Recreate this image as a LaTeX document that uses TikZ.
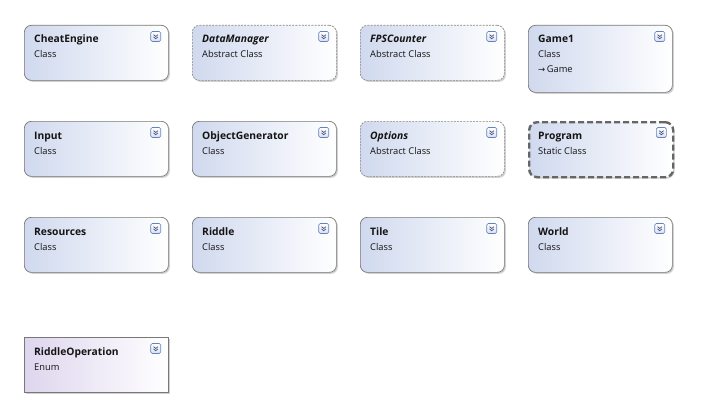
\documentclass[tikz,border=0pt]{standalone}
\usepackage{fontspec}
\setmainfont{Open Sans}
\newfontfamily\symfont{DejaVu Sans}
\usetikzlibrary{shadows}
\definecolor{boxleft}{RGB}{208,217,238}
\definecolor{enumleft}{RGB}{222,214,238}
\definecolor{boxline}{RGB}{120,120,120}
\definecolor{iconline}{RGB}{100,130,190}
\definecolor{icondark}{RGB}{40,60,120}
\definecolor{txt}{RGB}{20,20,20}
\tikzset{
  base/.style={anchor=north west, minimum width=144pt, inner sep=0pt,
    drop shadow={shadow xshift=1.5pt, shadow yshift=-1.5pt, fill=black!30, opacity=0.6}},
  clsbox/.style={base, rounded corners=7pt, draw=boxline, line width=0.7pt,
    left color=boxleft, right color=white},
  absbox/.style={clsbox, dashed, dash pattern=on 2pt off 1.2pt, draw=boxline!90},
  staticbox/.style={base, rounded corners=8pt, draw=black!60, line width=2.4pt,
    dash pattern=on 6pt off 3pt, left color=boxleft, right color=white},
  enumbox/.style={base, draw=boxline, line width=0.7pt, left color=enumleft, right color=white},
  title/.style={anchor=base west, font=\fontsize{10.3pt}{11pt}\selectfont\bfseries, text=txt, inner sep=0pt},
  ititle/.style={title, font=\fontsize{10.3pt}{11pt}\selectfont\bfseries\itshape},
  sub/.style={anchor=base west, font=\fontsize{9.3pt}{10pt}\selectfont, text=txt, inner sep=0pt},
  icon/.style={draw=iconline, line width=0.6pt, rounded corners=1.5pt, minimum size=10pt, inner sep=0pt,
    top color=white, bottom color=iconline!25}
}
\newcommand\chev[1]{%
  \node[icon] (#1i) at ([xshift=-13pt,yshift=-11.5pt]#1.north east) {};
  \draw[icondark, line width=0.6pt] ([xshift=-2.2pt,yshift=1.8pt]#1i.center) -- ([yshift=0pt]#1i.center) -- ([xshift=2.2pt,yshift=1.8pt]#1i.center);
  \draw[icondark, line width=0.6pt] ([xshift=-2.2pt,yshift=-0.4pt]#1i.center) -- ([yshift=-2.2pt]#1i.center) -- ([xshift=2.2pt,yshift=-0.4pt]#1i.center);
}
\newcommand\umlbox[8]{% name, style, x, y, height, titlestyle, title, subtitle
  \node[#2, minimum height=#5pt] (#1) at (#3pt,-#4pt) {};
  \node[#6] (#1t) at ([xshift=10pt,yshift=-18pt]#1.north west) {#7};
  \node[sub] (#1s) at ([xshift=10pt,yshift=-33pt]#1.north west) {#8};
  \chev{#1}
}
\begin{document}
\begin{tikzpicture}
\useasboundingbox[fill=white] (0,0) rectangle (709pt,-420pt);
\umlbox{ce}{clsbox}{24}{25}{55}{title}{CheatEngine}{Class}
\umlbox{dm}{absbox}{192}{25}{55}{ititle}{DataManager}{Abstract Class}
\umlbox{fps}{absbox}{360}{25}{55}{ititle}{FPSCounter}{Abstract Class}
\umlbox{g1}{clsbox}{528}{25}{67}{title}{Game1}{Class}
\node[sub] (g1b) at ([xshift=10pt,yshift=-48pt]g1.north west) {{\symfont\fontsize{8.5pt}{9pt}\selectfont →}\,Game};
\umlbox{inp}{clsbox}{24}{121}{55}{title}{Input}{Class}
\umlbox{og}{clsbox}{192}{121}{55}{title}{ObjectGenerator}{Class}
\umlbox{opt}{absbox}{360}{121}{55}{ititle}{Options}{Abstract Class}
\umlbox{prog}{staticbox}{528}{121}{55}{title}{Program}{Static Class}
\umlbox{res}{clsbox}{24}{217}{55}{title}{Resources}{Class}
\umlbox{rid}{clsbox}{192}{217}{55}{title}{Riddle}{Class}
\umlbox{tile}{clsbox}{360}{217}{55}{title}{Tile}{Class}
\umlbox{world}{clsbox}{528}{217}{55}{title}{World}{Class}
\umlbox{ro}{enumbox}{24}{337}{55}{title}{RiddleOperation}{Enum}
\end{tikzpicture}
\end{document}
